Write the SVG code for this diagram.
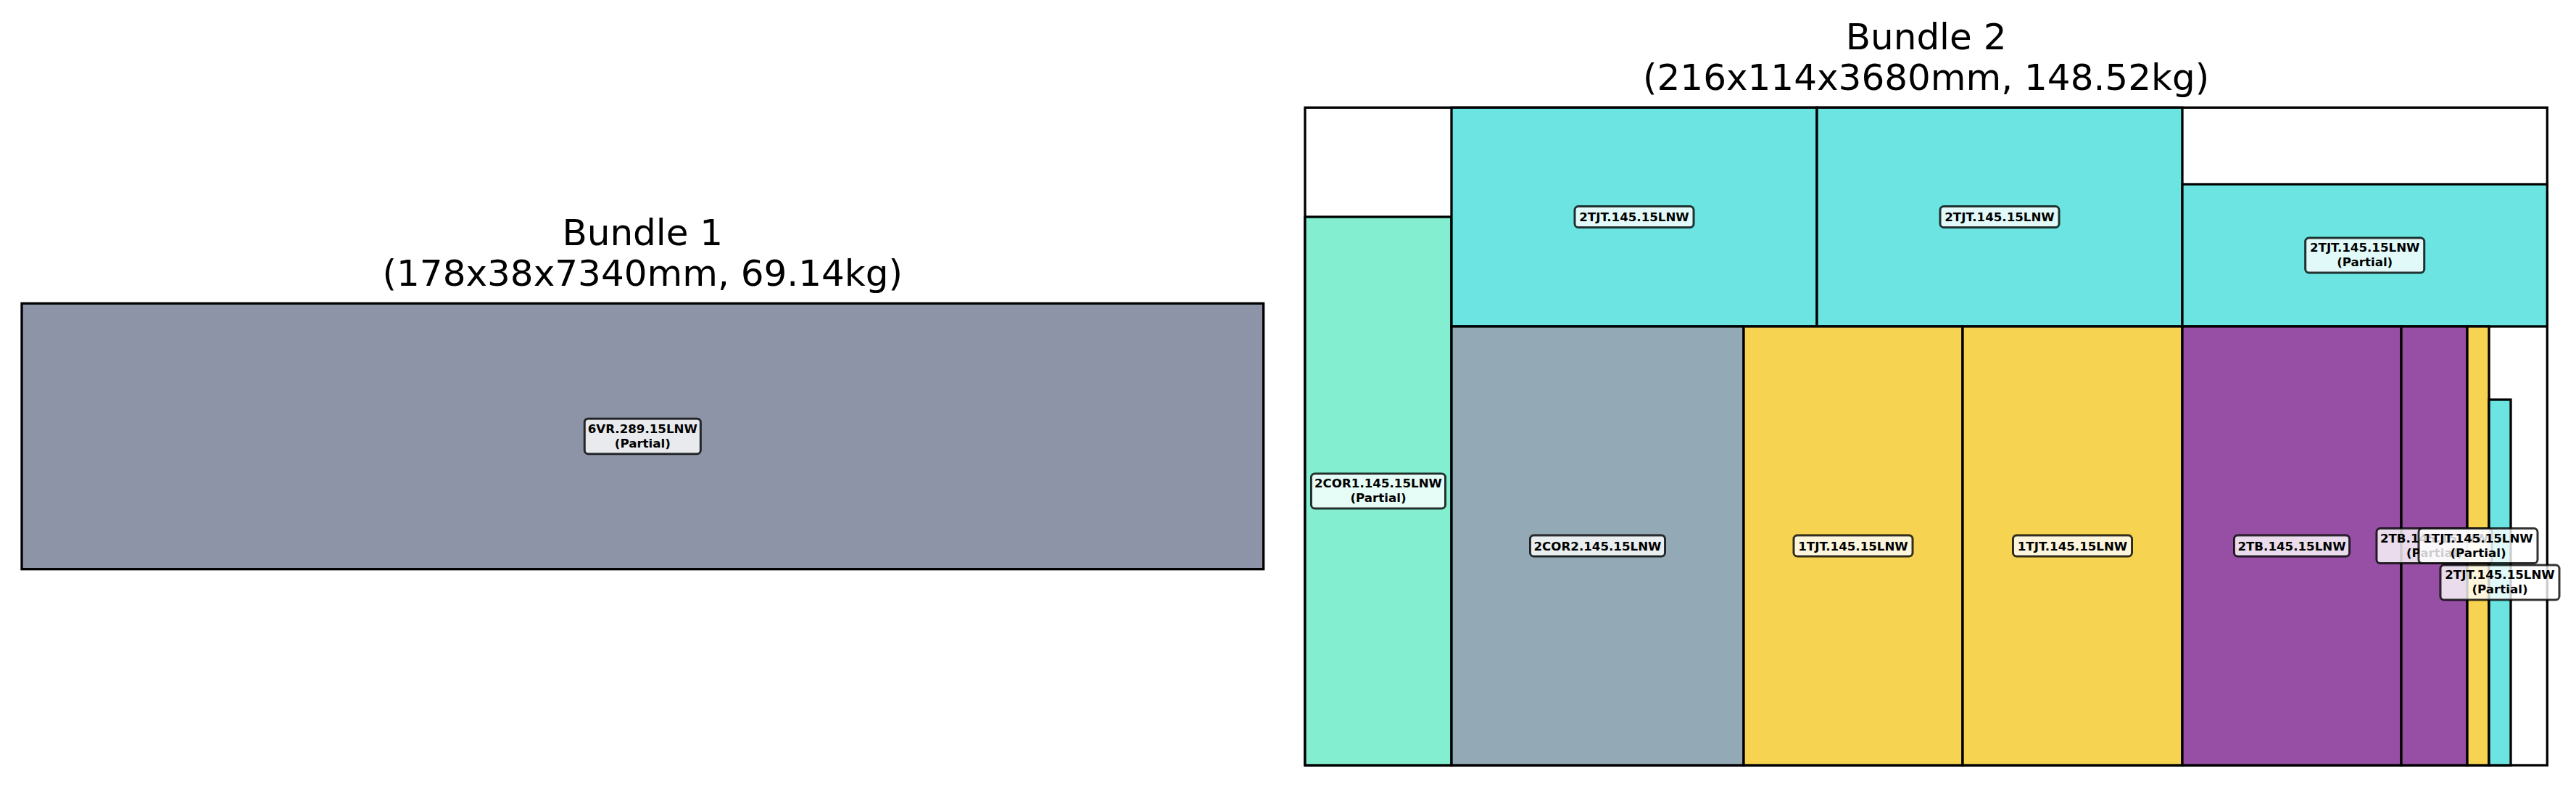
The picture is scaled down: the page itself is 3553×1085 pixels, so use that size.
<svg xmlns="http://www.w3.org/2000/svg" width="3553" height="1085" viewBox="0 0 3553 1085">
<style>
.bg{fill:#ffffff}
.pc{stroke:#000;stroke-width:3.3}
.ct{fill:#ffffff;stroke:#000;stroke-width:3.3}
.gray{fill:#8e94a7}
.cyan{fill:#6ce5e2}
.mint{fill:#84efd0}
.gb{fill:#93a9b5}
.yel{fill:#f6d350}
.pur{fill:#974fa5}
.title{font-family:"DejaVu Sans",sans-serif;font-size:50px;text-anchor:middle;fill:#000}
.lb{fill:#fff;fill-opacity:0.8;stroke:#000;stroke-opacity:0.8;stroke-width:3}
.lt{font-family:"DejaVu Sans",sans-serif;font-weight:bold;font-size:16.67px;text-anchor:middle;fill:#000}
</style>
<rect class="bg" x="0" y="0" width="3553" height="1085"/>

<g id="bundle1">
  <text class="title" x="886.3" y="338.3">Bundle 1</text>
  <text class="title" x="886.3" y="393.5">(178x38x7340mm, 69.14kg)</text>
  <g id="b1-6VR">
    <rect class="pc gray" x="30" y="418.3" width="1712.7" height="366.4"/>
  </g>
</g>

<g id="bundle2">
  <text class="title" x="2656.6" y="67.8">Bundle 2</text>
  <text class="title" x="2656.6" y="123.8">(216x114x3680mm, 148.52kg)</text>
  <rect id="b2-container" class="ct" x="1800" y="148.3" width="1713.3" height="906.7"/>
  <g id="b2-2COR1"><rect class="pc mint" x="1800" y="299" width="202" height="756"/></g>
  <g id="b2-2TJT-a"><rect class="pc cyan" x="2002" y="148.3" width="504" height="301.7"/></g>
  <g id="b2-2TJT-b"><rect class="pc cyan" x="2506" y="148.3" width="504" height="301.7"/></g>
  <g id="b2-2TJT-p"><rect class="pc cyan" x="3010" y="254" width="503.3" height="196"/></g>
  <g id="b2-2COR2"><rect class="pc gb" x="2002" y="450" width="403" height="605"/></g>
  <g id="b2-1TJT-a"><rect class="pc yel" x="2405" y="450" width="302" height="605"/></g>
  <g id="b2-1TJT-b"><rect class="pc yel" x="2707" y="450" width="303" height="605"/></g>
  <g id="b2-2TB"><rect class="pc pur" x="3010" y="450" width="302" height="605"/></g>
  <g id="b2-2TB-p"><rect class="pc pur" x="3312" y="450" width="91" height="605"/></g>
  <g id="b2-1TJT-p"><rect class="pc yel" x="3403" y="450" width="30" height="605"/></g>
  <g id="b2-2TJT-n"><rect class="pc cyan" x="3433" y="551" width="30" height="504"/></g>
</g>

<g id="labels">
  <g id="lab-6VR">
    <rect class="lb" x="806.3" y="577.2" width="160" height="48.5" rx="5"/>
    <text class="lt" x="886.3" y="596.5">6VR.289.15LNW</text>
    <text class="lt" x="886.3" y="616.7">(Partial)</text>
  </g>
  <g id="lab-2COR1">
    <rect class="lb" x="1808.5" y="653" width="185" height="48" rx="5"/>
    <text class="lt" x="1901" y="672">2COR1.145.15LNW</text>
    <text class="lt" x="1901" y="692.2">(Partial)</text>
  </g>
  <g id="lab-2TJT-a">
    <rect class="lb" x="2172" y="284.5" width="164" height="29" rx="5"/>
    <text class="lt" x="2254" y="305">2TJT.145.15LNW</text>
  </g>
  <g id="lab-2TJT-b">
    <rect class="lb" x="2676" y="284.5" width="164" height="29" rx="5"/>
    <text class="lt" x="2758" y="305">2TJT.145.15LNW</text>
  </g>
  <g id="lab-2TJT-p">
    <rect class="lb" x="3179.7" y="328" width="164" height="48" rx="5"/>
    <text class="lt" x="3261.7" y="347">2TJT.145.15LNW</text>
    <text class="lt" x="3261.7" y="367.2">(Partial)</text>
  </g>
  <g id="lab-2COR2">
    <rect class="lb" x="2110.5" y="738" width="186" height="29" rx="5"/>
    <text class="lt" x="2203.5" y="758.5">2COR2.145.15LNW</text>
  </g>
  <g id="lab-1TJT-a">
    <rect class="lb" x="2474" y="738" width="164" height="29" rx="5"/>
    <text class="lt" x="2556" y="758.5">1TJT.145.15LNW</text>
  </g>
  <g id="lab-1TJT-b">
    <rect class="lb" x="2776.5" y="738" width="164" height="29" rx="5"/>
    <text class="lt" x="2858.5" y="758.5">1TJT.145.15LNW</text>
  </g>
  <g id="lab-2TB">
    <rect class="lb" x="3081.5" y="738" width="159" height="29" rx="5"/>
    <text class="lt" x="3161" y="758.5">2TB.145.15LNW</text>
  </g>
  <g id="lab-2TB-p">
    <rect class="lb" x="3278" y="728.5" width="159" height="48" rx="5"/>
    <text class="lt" x="3357.5" y="747.5">2TB.145.15LNW</text>
    <text class="lt" x="3357.5" y="767.7">(Partial)</text>
  </g>
  <g id="lab-1TJT-p">
    <rect class="lb" x="3336" y="728.5" width="164" height="48" rx="5"/>
    <text class="lt" x="3418" y="747.5">1TJT.145.15LNW</text>
    <text class="lt" x="3418" y="767.7">(Partial)</text>
  </g>
  <g id="lab-2TJT-n">
    <rect class="lb" x="3366" y="779" width="164" height="48" rx="5"/>
    <text class="lt" x="3448" y="798">2TJT.145.15LNW</text>
    <text class="lt" x="3448" y="818.2">(Partial)</text>
  </g>
</g>
<g id="connectors"/>
</svg>
